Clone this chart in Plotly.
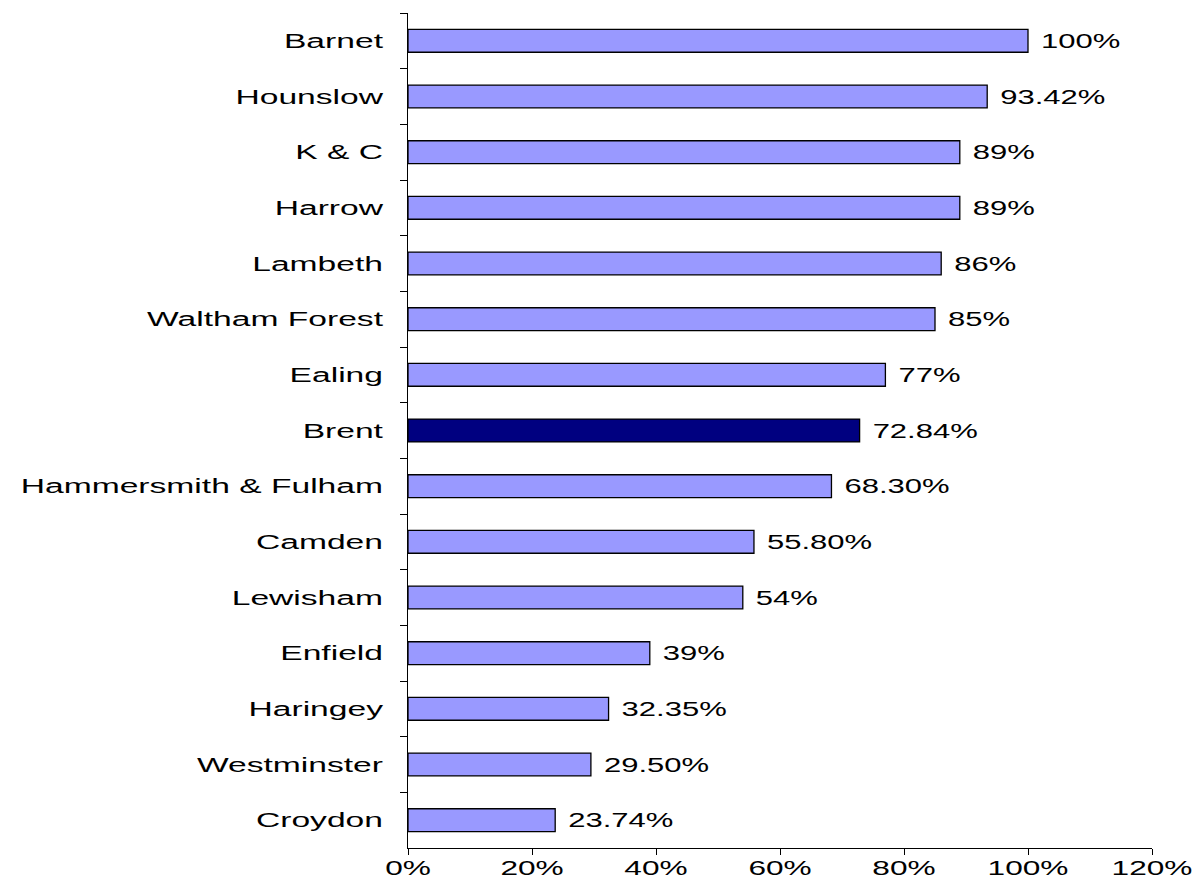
import plotly.graph_objects as go

boroughs = ["Barnet", "Hounslow", "K & C", "Harrow", "Lambeth", "Waltham Forest",
            "Ealing", "Brent", "Hammersmith & Fulham", "Camden", "Lewisham",
            "Enfield", "Haringey", "Westminster", "Croydon"]
values = [1.00, 0.9342, 0.89, 0.89, 0.86, 0.85, 0.77, 0.7284, 0.6830, 0.5580,
          0.54, 0.39, 0.3235, 0.2950, 0.2374]
labels = ["100%", "93.42%", "89%", "89%", "86%", "85%", "77%", "72.84%", "68.30%",
          "55.80%", "54%", "39%", "32.35%", "29.50%", "23.74%"]
highlight = "Brent"

colors = ["#000080" if b == highlight else "#9999FF" for b in boroughs]
FONT = "Liberation Sans, Arial, sans-serif"

fig = go.Figure(go.Bar(
    x=values, y=boroughs, orientation="h",
    marker=dict(color=colors, line=dict(color="black", width=1.3)),
    text=labels, textposition="outside", cliponaxis=False,
    textfont=dict(family=FONT, size=20, color="black"),
))

fig.update_layout(
    width=1200, height=887,
    margin=dict(l=400, r=56, t=5, b=47),
    plot_bgcolor="white", paper_bgcolor="white",
    bargap=0.59, showlegend=False,
    font=dict(family=FONT, size=20, color="black"),
    xaxis=dict(range=[0, 1.2], dtick=0.2, tickformat=".0%", showgrid=False,
               zeroline=False, showline=True, linecolor="black", linewidth=1,
               ticks="outside", ticklen=6, tickcolor="black",
               tickfont=dict(size=20), ticklabelstandoff=-4),
    yaxis=dict(categoryorder="array", categoryarray=boroughs, autorange="reversed",
               showgrid=False, showline=True, linecolor="black", linewidth=1,
               ticks="outside", ticklen=7, tickcolor="black", tickson="boundaries",
               tickfont=dict(size=20), ticklabelstandoff=20),
)

# The original chart's text is horizontally stretched; emulate it by widening glyphs.
post = """
(function(){
  function stretch(sel, f, shiftStart){
    document.querySelectorAll(sel).forEach(function(t){
      if (t.getAttribute('data-stretched')) return;
      var w = t.getComputedTextLength();
      if (!w) return;
      t.setAttribute('textLength', (w * f).toFixed(2));
      t.setAttribute('lengthAdjust', 'spacingAndGlyphs');
      if (shiftStart !== undefined) {
        t.setAttribute('dx', (w * (f - 1) / 2 + shiftStart).toFixed(2));
      }
      t.setAttribute('data-stretched', '1');
    });
  }
  function run(){
    stretch('.ytick text', 1.68);
    stretch('.xtick text', 1.58);
    stretch('text.bartext', 1.55, 10);
  }
  run();
  setTimeout(run, 50);
})();
"""

fig.write_html("out.html", post_script=post)
